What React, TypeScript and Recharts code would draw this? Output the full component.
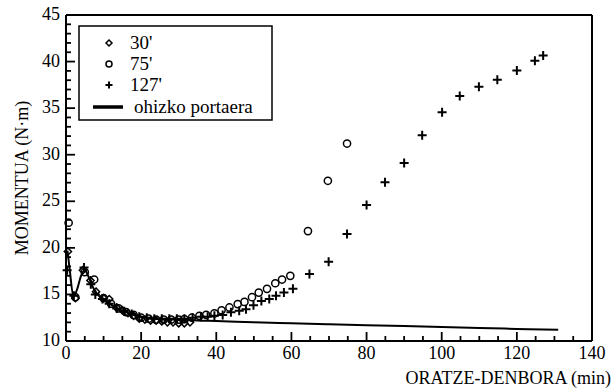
import { ComposedChart, Line, Scatter, XAxis, YAxis, Legend } from "recharts";

const FONT = "Liberation Serif";
const INK = "#000";

// ohizko portaera (reference behaviour curve)
const refTime = [0.4, 1, 2, 3, 4, 5, 6, 7, 8, 10, 12, 14, 16, 18, 20, 23, 26, 30, 35, 40, 50, 60, 70, 80, 90, 100, 110, 120, 131];
const refMoment = [19.7, 17.6, 14.8, 15.6, 17.0, 17.6, 16.9, 15.9, 15.2, 14.4, 13.9, 13.4, 13.1, 12.8, 12.6, 12.4, 12.35, 12.3, 12.2, 12.15, 12.0, 11.9, 11.8, 11.7, 11.6, 11.5, 11.4, 11.3, 11.2];

// 30'
const time30 = [0.5, 2.5, 4.5, 6.5, 8, 10, 11.5, 13.5, 15, 16.5, 18, 19.5, 21, 22.5, 24, 25.5, 27, 28.5, 30, 31.5, 33];
const moment30 = [19.6, 14.6, 17.6, 16.5, 15.3, 14.6, 14.5, 13.6, 13.3, 13.0, 12.7, 12.4, 12.3, 12.2, 12.2, 12.1, 12.0, 12.0, 11.9, 11.9, 12.0];

// 75'
const time75 = [0.7, 2.5, 5, 7.5, 10, 12, 14, 16, 18, 20, 22, 24, 26, 28, 30, 31.5, 33.5, 35.5, 37.3, 39.5, 41.4, 43.5, 45.7, 47.5, 49.5, 51.3, 53.5, 55.7, 57.5, 59.7, 64.4, 69.7, 74.8];
const moment75 = [22.7, 14.7, 17.4, 16.6, 14.6, 14.0, 13.5, 13.1, 12.8, 12.5, 12.4, 12.3, 12.3, 12.3, 12.3, 12.35, 12.5, 12.7, 12.8, 12.96, 13.3, 13.6, 13.96, 14.2, 14.7, 15.2, 15.6, 16.2, 16.6, 17.0, 21.8, 27.2, 31.2];

// 127'
const time127 = [0.3, 2.1, 4.8, 6.6, 7.8, 9.7, 11.5, 13.5, 15.5, 17.5, 19.5, 21.5, 23.5, 25.5, 27.5, 29.5, 31.5, 33.7, 35.9, 37.7, 39.5, 41.7, 43.9, 46.1, 47.9, 49.9, 52, 54.1, 55.9, 58, 60.4, 64.8, 69.9, 74.8, 80, 84.9, 90, 94.8, 100.1, 104.8, 109.9, 114.8, 120, 124.8, 127];
const moment127 = [17.6, 14.85, 17.9, 16.1, 15.0, 14.5, 14.0, 13.5, 13.2, 12.9, 12.6, 12.5, 12.4, 12.4, 12.4, 12.4, 12.4, 12.5, 12.6, 12.6, 12.7, 12.8, 13.1, 13.25, 13.4, 13.85, 14.3, 14.5, 14.85, 15.2, 15.6, 17.2, 18.5, 21.5, 24.6, 27.05, 29.1, 32.1, 34.55, 36.3, 37.3, 38.05, 39.05, 40.1, 40.65];

const xMajor = [0, 20, 40, 60, 80, 100, 120, 140];
const yMajor = [10, 15, 20, 25, 30, 35, 40, 45];
const X_MINOR = 5;
const Y_MINOR = 1;

const zip = (ts: number[], vs: number[]) => ts.map((t, i) => ({ t, v: vs[i] }));
const stepTicks = (from: number, to: number, step: number) => {
  const out: number[] = [];
  for (let v = from; v <= to + 1e-9; v += step) out.push(v);
  return out;
};

const refData = zip(refTime, refMoment);
const data30 = zip(time30, moment30);
const data75 = zip(time75, moment75);
const data127 = zip(time127, moment127);
const xTicks = stepTicks(xMajor[0], xMajor[xMajor.length - 1], X_MINOR);
const yTicks = stepTicks(yMajor[0], yMajor[yMajor.length - 1], Y_MINOR);

const Diamond = ({ cx, cy, s = 3.6 }: any) => (
  <path d={`M${cx},${cy - s}L${cx + s},${cy}L${cx},${cy + s}L${cx - s},${cy}Z`} fill="none" stroke={INK} strokeWidth={1.5} />
);
const Ring = ({ cx, cy, r = 3.6 }: any) => <circle cx={cx} cy={cy} r={r} fill="none" stroke={INK} strokeWidth={1.5} />;
const Plus = ({ cx, cy, s = 4.5 }: any) => (
  <path d={`M${cx - s},${cy}H${cx + s}M${cx},${cy - s}V${cy + s}`} fill="none" stroke={INK} strokeWidth={2} />
);

const XTick = ({ x, y, payload, top }: any) => {
  const major = xMajor.includes(payload.value);
  const len = major ? 9 : 5;
  return (
    <g>
      <line x1={x} x2={x} y1={y} y2={top ? y + len : y - len} stroke={INK} strokeWidth={1.8} />
      {!top && major && (
        <text x={x} y={y + 18} textAnchor="middle" fontFamily={FONT} fontSize={18} fill={INK}>
          {payload.value}
        </text>
      )}
    </g>
  );
};

const YTick = ({ x, y, payload, right }: any) => {
  const major = yMajor.includes(payload.value);
  const len = major ? 9 : 5;
  return (
    <g>
      <line x1={x} x2={right ? x - len : x + len} y1={y} y2={y} stroke={INK} strokeWidth={1.8} />
      {!right && major && (
        <text x={x - 6} y={y + 5} textAnchor="end" fontFamily={FONT} fontSize={18} fill={INK}>
          {payload.value}
        </text>
      )}
    </g>
  );
};

const legendRows = [
  { name: "30'", mark: (cx: number, cy: number) => <Diamond cx={cx} cy={cy} s={3} /> },
  { name: "75'", mark: (cx: number, cy: number) => <Ring cx={cx} cy={cy} r={3} /> },
  { name: "127'", mark: (cx: number, cy: number) => <Plus cx={cx} cy={cy} s={3.5} /> },
];

const renderLegend = () => (
  <svg width={195} height={96} style={{ display: "block" }}>
    <rect x={1} y={1} width={193} height={94} fill="#fff" stroke={INK} strokeWidth={1.5} />
    {legendRows.map((r, i) => (
      <g key={r.name}>
        {r.mark(31, 18 + i * 21)}
        <text x={52} y={18 + i * 21 + 6} fontFamily={FONT} fontSize={19} fill={INK}>
          {r.name}
        </text>
      </g>
    ))}
    <line x1={15} x2={45} y1={82} y2={82} stroke={INK} strokeWidth={3.5} />
    <text x={56} y={88} fontFamily={FONT} fontSize={19} fill={INK}>
      ohizko portaera
    </text>
  </svg>
);

export default function App() {
  return (
    <div style={{ position: "absolute", left: 0, top: 0, background: "#fff" }}>
      <ComposedChart width={614} height={391} margin={{ top: 14, right: 21, bottom: 20, left: 6 }}>
        <XAxis
          dataKey="t"
          type="number"
          domain={[0, 140]}
          ticks={xTicks}
          interval={0}
          height={30}
          tickSize={0}
          tickMargin={0}
          axisLine={{ stroke: INK, strokeWidth: 2 }}
          tick={(p: any) => <XTick {...p} />}
          label={() => (
            <text x={611} y={384} textAnchor="end" fontFamily={FONT} fontSize={18} fill={INK}>
              ORATZE-DENBORA (min)
            </text>
          )}
        />
        <XAxis
          xAxisId="top"
          orientation="top"
          type="number"
          domain={[0, 140]}
          ticks={xTicks}
          interval={0}
          height={1}
          tickSize={0}
          tickMargin={0}
          axisLine={{ stroke: INK, strokeWidth: 2 }}
          tick={(p: any) => <XTick {...p} top />}
        />
        <YAxis
          type="number"
          domain={[10, 45]}
          ticks={yTicks}
          interval={0}
          width={60}
          tickSize={0}
          tickMargin={0}
          axisLine={{ stroke: INK, strokeWidth: 2 }}
          tick={(p: any) => <YTick {...p} />}
          label={() => (
            <text x={22} y={178} transform="rotate(-90 22 178)" textAnchor="middle" dominantBaseline="central" fontFamily={FONT} fontSize={18} fill={INK}>
              MOMENTUA (N·m)
            </text>
          )}
        />
        <YAxis
          yAxisId="right"
          orientation="right"
          type="number"
          domain={[10, 45]}
          ticks={yTicks}
          interval={0}
          width={1}
          tickSize={0}
          tickMargin={0}
          axisLine={{ stroke: INK, strokeWidth: 2 }}
          tick={(p: any) => <YTick {...p} right />}
        />
        <Legend
          layout="vertical"
          align="center"
          verticalAlign="middle"
          content={renderLegend}
          wrapperStyle={{ left: 78, top: 25, width: 195, height: 96 }}
        />
        <Line
          data={refData}
          dataKey="v"
          type="monotone"
          stroke={INK}
          strokeWidth={2}
          dot={false}
          isAnimationActive={false}
          legendType="none"
        />
        <Scatter data={data30} dataKey="v" shape={(p: any) => <Diamond cx={p.cx} cy={p.cy} />} isAnimationActive={false} />
        <Scatter data={data75} dataKey="v" shape={(p: any) => <Ring cx={p.cx} cy={p.cy} />} isAnimationActive={false} />
        <Scatter data={data127} dataKey="v" shape={(p: any) => <Plus cx={p.cx} cy={p.cy} />} isAnimationActive={false} />
      </ComposedChart>
    </div>
  );
}
